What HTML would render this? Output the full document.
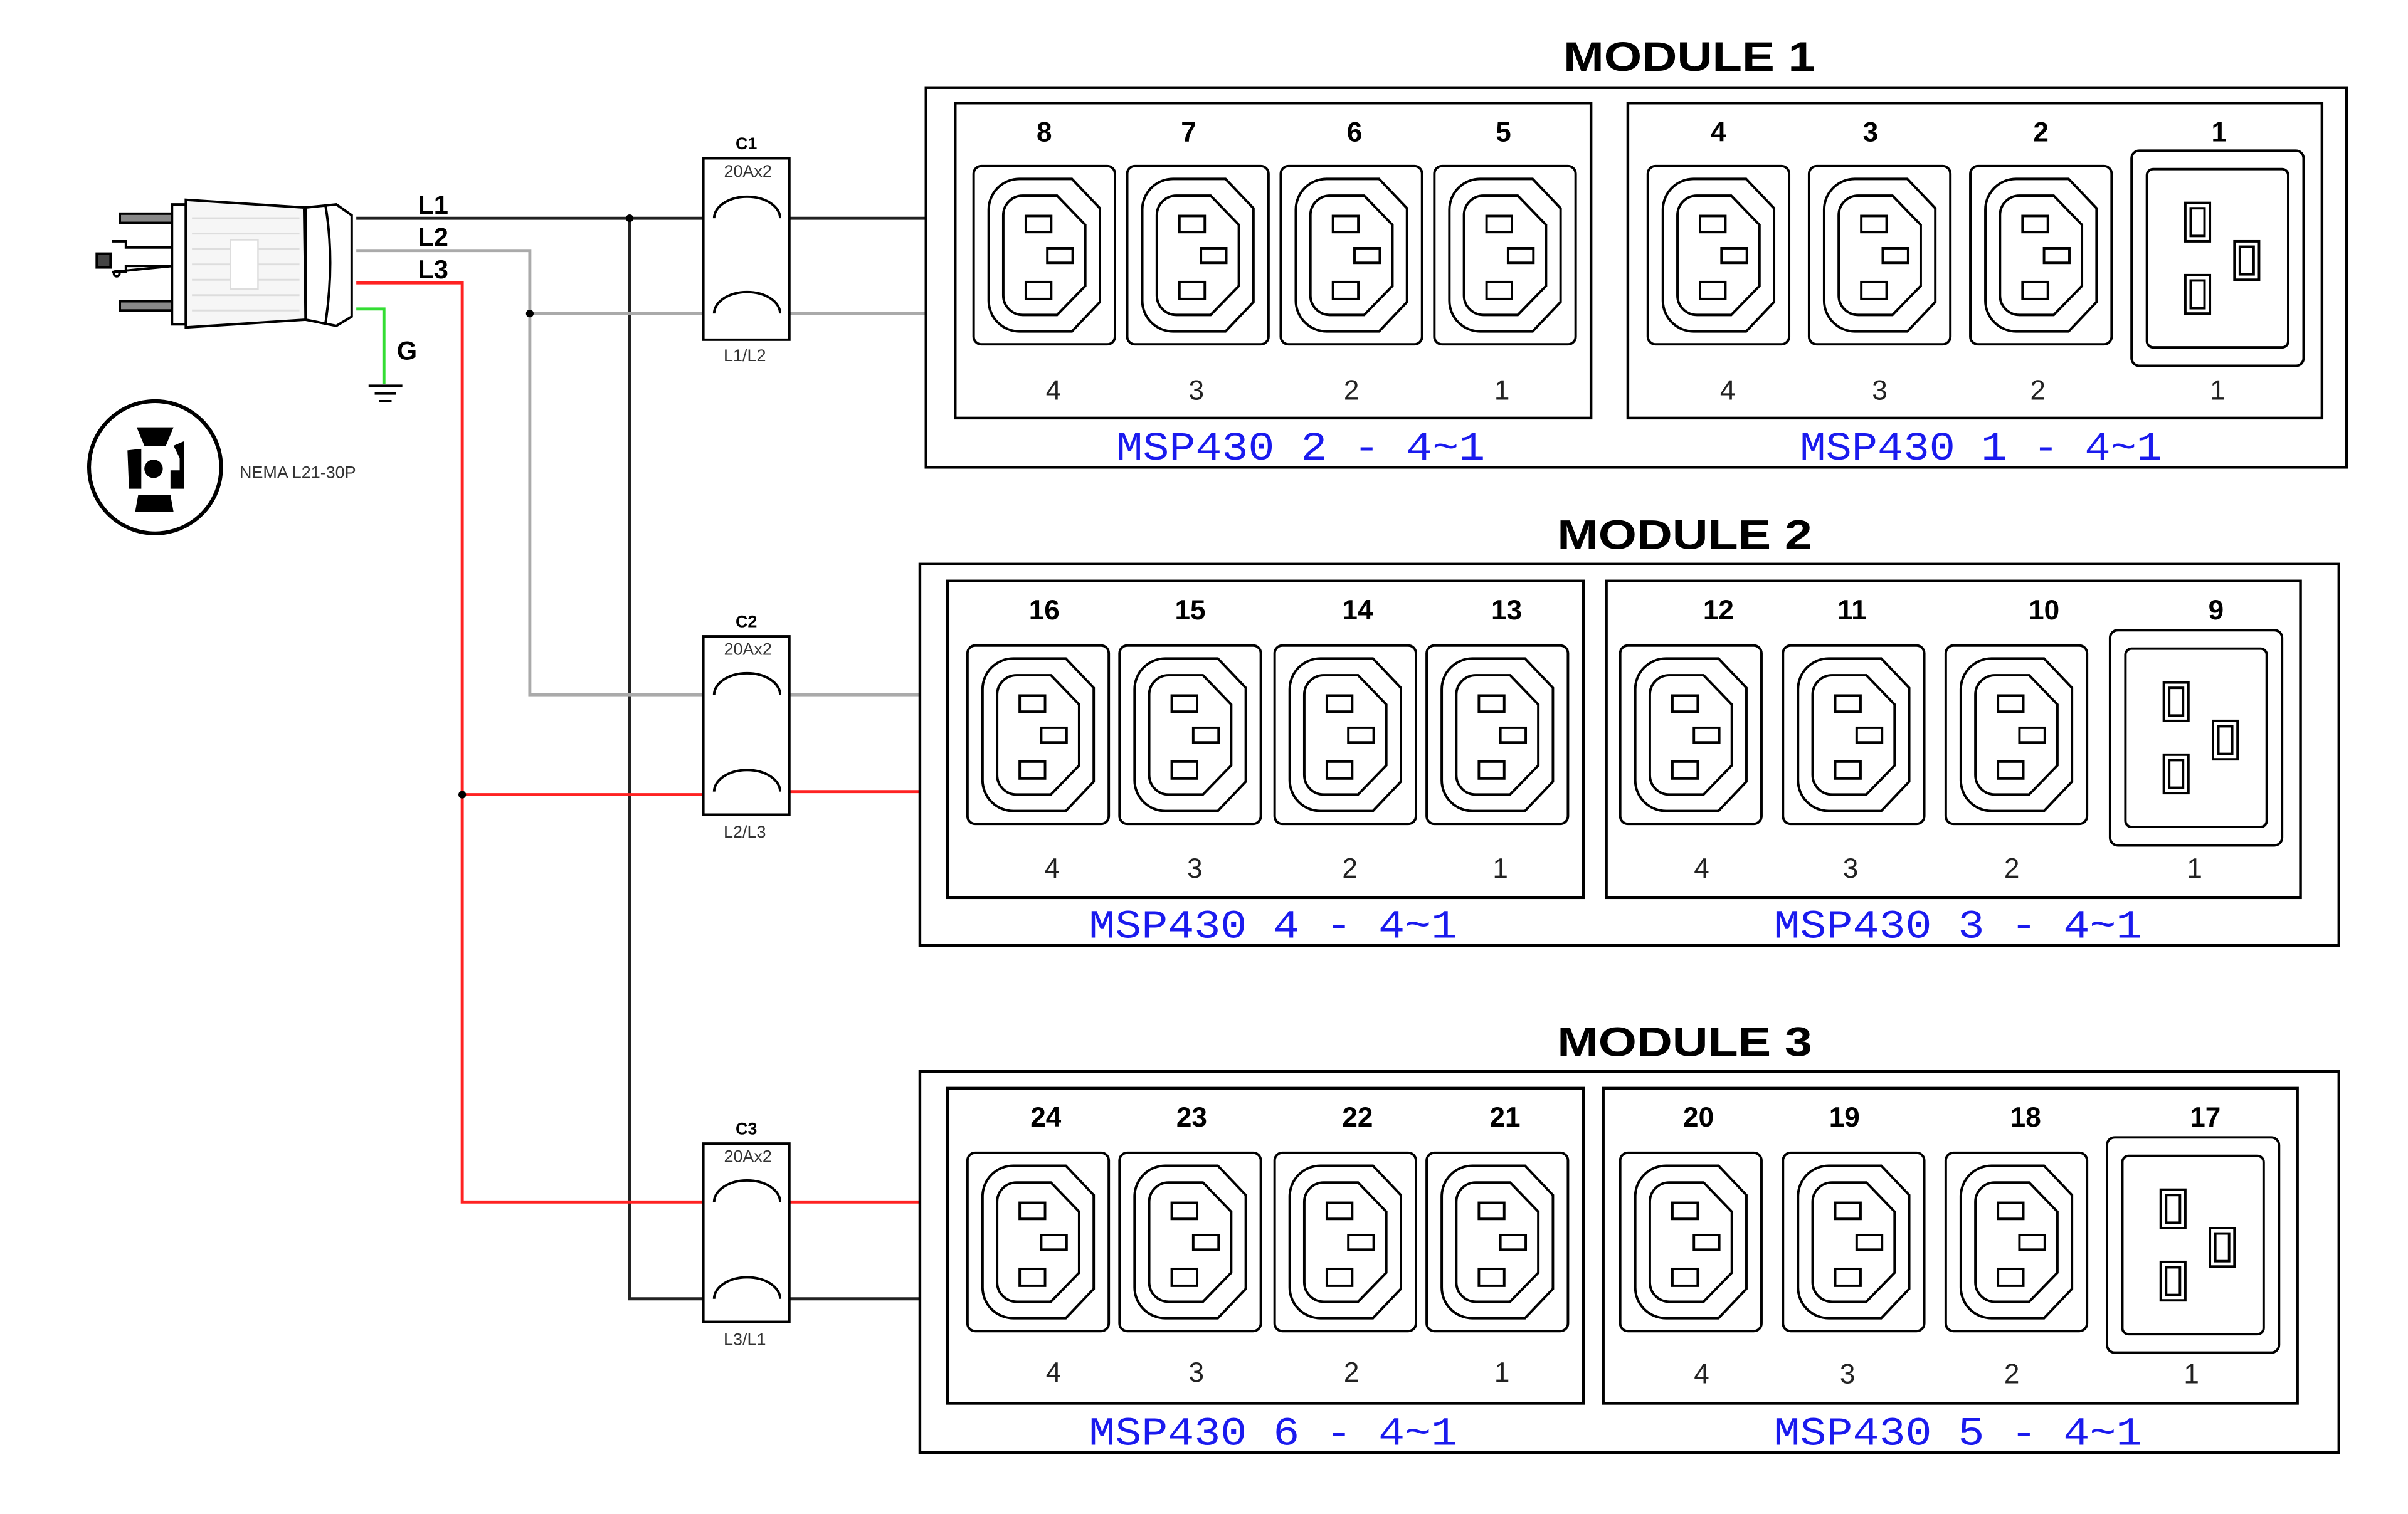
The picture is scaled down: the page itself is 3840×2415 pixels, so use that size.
<!DOCTYPE html>
<html><head><meta charset="utf-8"><style>
html,body{margin:0;padding:0;background:#fff;}
svg{display:block;}
</style></head><body>
<svg width="3840" height="2415" viewBox="0 0 1568 985" preserveAspectRatio="none" xmlns="http://www.w3.org/2000/svg" font-family="Liberation Sans, sans-serif">
<defs>
<g id="c13" fill="none" stroke="#000" stroke-width="1.6">
<rect x="0" y="0" width="92" height="116" rx="5"/>
<path d="M30 8.4 H64 L82.2 27.5 V88.5 L64 107.6 H30 A20 20 0 0 1 9.8 87.6 V28.4 A20 20 0 0 1 30 8.4 Z"/>
<path d="M32 19.3 H54.3 L72.7 38.3 V78 L54.3 96.9 H32 A12.7 12.7 0 0 1 19.3 84.2 V32 A12.7 12.7 0 0 1 32 19.3 Z"/>
<rect x="34" y="32.5" width="16.5" height="10.5"/>
<rect x="48" y="53.5" width="16.5" height="9.5"/>
<rect x="34" y="75.5" width="16.5" height="11"/>
</g>
<g id="c19" fill="none" stroke="#000" stroke-width="1.6">
<rect x="0" y="0" width="112" height="140" rx="5"/>
<rect x="10" y="12" width="92" height="116" rx="4"/>
<rect x="35" y="34" width="16" height="25"/><rect x="38.5" y="37.5" width="9" height="18"/>
<rect x="35" y="81" width="16" height="25"/><rect x="38.5" y="84.5" width="9" height="18"/>
<rect x="67" y="59" width="16" height="25"/><rect x="70.5" y="62.5" width="9" height="18"/>
</g>
</defs>

<g fill="none" stroke-width="2">
<path d="M232 142 H465 M508 142 H603" stroke="#222"/>
<path d="M410 142 V845 H465 M508 845 H599" stroke="#222"/>
<path d="M232 163 H345 V452 H465 M508 452 H599" stroke="#aaa"/>
<path d="M345 204 H465 M508 204 H603" stroke="#aaa"/>
<path d="M232 184 H301 V782 H465 M508 782 H599" stroke="#f22"/>
<path d="M301 517 H465 M508 515 H599" stroke="#f22"/>
<path d="M232 201 H250 V250" stroke="#3d3"/>
</g>
<g stroke="#000" stroke-width="1.6">
<path d="M240 251 H262 M244 256 H258 M247 261 H255"/>
</g>
<g fill="#000"><circle cx="410" cy="142" r="2.5"/><circle cx="345" cy="204" r="2.5"/><circle cx="301" cy="517" r="2.5"/></g>

<g fill="#fff" stroke="#000" stroke-width="1.6">
<rect x="458" y="103" width="56" height="118"/>
<rect x="458" y="414" width="56" height="116"/>
<rect x="458" y="744" width="56" height="116"/>
</g>
<g fill="none" stroke="#000" stroke-width="1.6">
<path d="M465 142 A21.5 14 0 0 1 508 142 M465 204 A21.5 14 0 0 1 508 204"/>
<path d="M465 452 A21.5 14 0 0 1 508 452 M465 515 A21.5 14 0 0 1 508 515"/>
<path d="M465 782 A21.5 14 0 0 1 508 782 M465 845 A21.5 14 0 0 1 508 845"/>
</g>
<g font-size="11" text-anchor="middle">
<text x="486" y="97" font-weight="bold">C1</text><text x="487" y="115" fill="#333">20Ax2</text><text x="485" y="235" fill="#333">L1/L2</text>
<text x="486" y="408" font-weight="bold">C2</text><text x="487" y="426" fill="#333">20Ax2</text><text x="485" y="545" fill="#333">L2/L3</text>
<text x="486" y="738" font-weight="bold">C3</text><text x="487" y="756" fill="#333">20Ax2</text><text x="485" y="875" fill="#333">L3/L1</text>
</g>
<g font-size="17" font-weight="bold" text-anchor="middle">
<text x="282" y="139">L1</text><text x="282" y="160">L2</text><text x="282" y="181">L3</text><text x="265" y="234">G</text>
</g>

<g stroke="#000" stroke-width="1.6" fill="#fff">
<rect x="78" y="139" width="35" height="6" fill="#888"/>
<rect x="78" y="196" width="35" height="6" fill="#888"/>
<path d="M73 157 H82 V161 H113 M113 173 H82 V177 H73 Z" fill="#fff"/>
<rect x="63" y="165" width="9" height="9" fill="#444"/>
<circle cx="76" cy="178" r="1.8" fill="none"/>
<rect x="112" y="133" width="9" height="78"/>
<path d="M121 130 L198 135 L199 208 L121 213 Z" fill="#f6f6f6"/>
<path d="M199 135 L219 133 L229 140 V206 L219 212 L199 208 Z"/>
<path d="M212 134 Q218 170 212 210"/>
</g>
<g stroke="#ddd" stroke-width="1.2">
<path d="M125 142 H195 M125 152 H195 M125 162 H195 M125 172 H195 M125 182 H195 M125 192 H195 M125 202 H195"/>
</g>
<rect x="150" y="156" width="18" height="32" fill="#fff" stroke="#ddd"/>

<circle cx="101" cy="304" r="43" fill="none" stroke="#000" stroke-width="2.5"/>
<circle cx="100" cy="305" r="6" fill="#000"/>
<g fill="#000">
<path d="M89 278 H113 L108 290 H94 Z"/>
<path d="M90 322 H111 L113 333 H88 Z"/>
<path d="M83 293 L92 292 V318 H84 Z"/>
<path d="M113 290 L120 287 V318 H111 V306 H117 V298 Z"/>
</g>
<text x="156" y="311" font-size="11" fill="#333">NEMA L21-30P</text>

<g font-weight="bold" font-size="27" text-anchor="middle">
<text x="1100" y="46" textLength="164" lengthAdjust="spacingAndGlyphs">MODULE 1</text>
<text x="1097" y="357" textLength="166" lengthAdjust="spacingAndGlyphs">MODULE 2</text>
<text x="1097" y="687" textLength="166" lengthAdjust="spacingAndGlyphs">MODULE 3</text>
</g>
<g fill="none" stroke="#000" stroke-width="1.8">
<rect x="603" y="57" width="925" height="247"/>
<rect x="622" y="67" width="414" height="205"/>
<rect x="1060" y="67" width="452" height="205"/>
<rect x="599" y="367" width="924" height="248"/>
<rect x="617" y="378" width="414" height="206"/>
<rect x="1046" y="378" width="452" height="206"/>
<rect x="599" y="697" width="924" height="248"/>
<rect x="617" y="708" width="414" height="205"/>
<rect x="1044" y="708" width="452" height="205"/>
</g>

<use href="#c13" x="634" y="108"/><use href="#c13" x="734" y="108"/><use href="#c13" x="834" y="108"/><use href="#c13" x="934" y="108"/>
<use href="#c13" x="1073" y="108"/><use href="#c13" x="1178" y="108"/><use href="#c13" x="1283" y="108"/>
<use href="#c19" x="1388" y="98"/>
<use href="#c13" x="630" y="420"/><use href="#c13" x="729" y="420"/><use href="#c13" x="830" y="420"/><use href="#c13" x="929" y="420"/>
<use href="#c13" x="1055" y="420"/><use href="#c13" x="1161" y="420"/><use href="#c13" x="1267" y="420"/>
<use href="#c19" x="1374" y="410"/>
<use href="#c13" x="630" y="750"/><use href="#c13" x="729" y="750"/><use href="#c13" x="830" y="750"/><use href="#c13" x="929" y="750"/>
<use href="#c13" x="1055" y="750"/><use href="#c13" x="1161" y="750"/><use href="#c13" x="1267" y="750"/>
<use href="#c19" x="1372" y="740"/>

<g font-weight="bold" font-size="18" text-anchor="middle">
<text x="680" y="92">8</text><text x="774" y="92">7</text><text x="882" y="92">6</text><text x="979" y="92">5</text>
<text x="1119" y="92">4</text><text x="1218" y="92">3</text><text x="1329" y="92">2</text><text x="1445" y="92">1</text>
<text x="680" y="403">16</text><text x="775" y="403">15</text><text x="884" y="403">14</text><text x="981" y="403">13</text>
<text x="1119" y="403">12</text><text x="1206" y="403">11</text><text x="1331" y="403">10</text><text x="1443" y="403">9</text>
<text x="681" y="733">24</text><text x="776" y="733">23</text><text x="884" y="733">22</text><text x="980" y="733">21</text>
<text x="1106" y="733">20</text><text x="1201" y="733">19</text><text x="1319" y="733">18</text><text x="1436" y="733">17</text>
</g>
<g font-size="18" text-anchor="middle" fill="#222">
<text x="686" y="260">4</text><text x="779" y="260">3</text><text x="880" y="260">2</text><text x="978" y="260">1</text>
<text x="1125" y="260">4</text><text x="1224" y="260">3</text><text x="1327" y="260">2</text><text x="1444" y="260">1</text>
<text x="685" y="571">4</text><text x="778" y="571">3</text><text x="879" y="571">2</text><text x="977" y="571">1</text>
<text x="1108" y="571">4</text><text x="1205" y="571">3</text><text x="1310" y="571">2</text><text x="1429" y="571">1</text>
<text x="686" y="899">4</text><text x="779" y="899">3</text><text x="880" y="899">2</text><text x="978" y="899">1</text>
<text x="1108" y="900">4</text><text x="1203" y="900">3</text><text x="1310" y="900">2</text><text x="1427" y="900">1</text>
</g>
<g font-size="26" fill="#1a1aee" style="font-family:'Liberation Mono',monospace" text-anchor="middle">
<text x="847" y="299" textLength="240" lengthAdjust="spacingAndGlyphs">MSP430 2 - 4~1</text>
<text x="1290" y="299" textLength="236" lengthAdjust="spacingAndGlyphs">MSP430 1 - 4~1</text>
<text x="829" y="610" textLength="240" lengthAdjust="spacingAndGlyphs">MSP430 4 - 4~1</text>
<text x="1275" y="610" textLength="240" lengthAdjust="spacingAndGlyphs">MSP430 3 - 4~1</text>
<text x="829" y="940" textLength="240" lengthAdjust="spacingAndGlyphs">MSP430 6 - 4~1</text>
<text x="1275" y="940" textLength="240" lengthAdjust="spacingAndGlyphs">MSP430 5 - 4~1</text>
</g>
</svg>
</body></html>
